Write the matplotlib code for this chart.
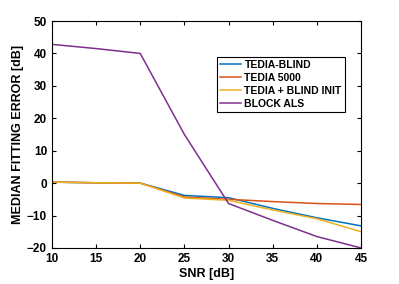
import matplotlib
matplotlib.use("Agg")
import matplotlib.pyplot as plt

snr = [10, 15, 20, 25, 30, 35, 40, 45]
tedia_blind = [0.3, 0.1, 0.0, -3.8, -4.5, -7.8, -10.7, -13.2]
tedia_5000 = [0.3, 0.1, 0.0, -4.3, -5.0, -5.7, -6.3, -6.6]
tedia_init = [0.3, 0.1, 0.0, -4.6, -5.3, -8.3, -11.0, -15.0]
block_als = [42.8, 41.5, 40.0, 15.0, -6.3, -11.5, -16.5, -20.0]

labels = ["TEDIA-BLIND", "TEDIA 5000", "TEDIA + BLIND INIT", "BLOCK ALS"]
colors = ["#0072BD", "#D95319", "#EDB120", "#7E2F8E"]

plt.rcParams["font.family"] = ["Liberation Sans", "DejaVu Sans"]
plt.rcParams["font.weight"] = "bold"

fig = plt.figure(figsize=(3.99, 2.84), dpi=100)
ax = fig.add_axes([0.130, 0.127, 0.775, 0.799])

for ys, lab, c in zip([tedia_blind, tedia_5000, tedia_init, block_als], labels, colors):
    ax.plot(snr, ys, color=c, lw=1.1, label=lab)

ax.set_xlim(10, 45)
ax.set_ylim(-20, 50)
ax.set_xticks(range(10, 50, 5))
ax.set_yticks(range(-20, 60, 10))
ax.tick_params(direction="in", top=True, right=True, labelsize=8.5, length=3, width=0.8)
for lbl in ax.get_xticklabels() + ax.get_yticklabels():
    lbl.set_fontweight("bold")
for s in ax.spines.values():
    s.set_linewidth(0.8)
ax.set_xlabel("SNR [dB]", fontsize=9, fontweight="bold", labelpad=2)
ax.set_ylabel("MEDIAN FITTING ERROR [dB]", fontsize=9, fontweight="bold", labelpad=2)

leg = ax.legend(loc="upper left", bbox_to_anchor=(0.535, 0.843),
                prop={"weight": "bold", "size": 7.5}, fancybox=False, framealpha=1,
                edgecolor="black", handlelength=2.0, handletextpad=0.3,
                borderpad=0.3, labelspacing=0.3, borderaxespad=0)
leg.get_frame().set_linewidth(0.8)

fig.savefig("out.png", dpi=100)
